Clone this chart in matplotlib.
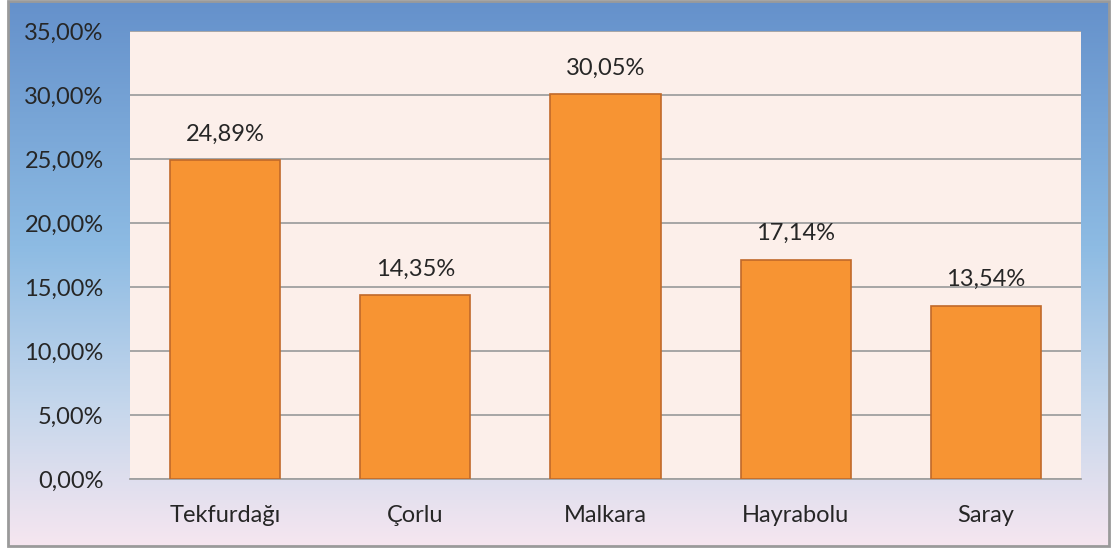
import matplotlib
matplotlib.use("Agg")
import matplotlib.pyplot as plt
import numpy as np
from matplotlib.colors import LinearSegmentedColormap
from matplotlib.patches import Rectangle
from matplotlib.ticker import FuncFormatter

categories = ["Tekfurdağı", "Çorlu", "Malkara", "Hayrabolu", "Saray"]
values = [24.89, 14.35, 30.05, 17.14, 13.54]
yticks = [0, 5, 10, 15, 20, 25, 30, 35]

plt.rcParams["font.family"] = ["Lato", "DejaVu Sans"]

W, H = 1111, 549
fig = plt.figure(figsize=(W / 100, H / 100), dpi=100)

# gradient background inside the outer frame
fx0, fy0, fx1, fy1 = 8, 1, 1109, 546
bg = fig.add_axes([fx0 / W, 1 - fy1 / H, (fx1 - fx0) / W, (fy1 - fy0) / H])
grad = LinearSegmentedColormap.from_list(
    "bg", [(0.0, "#6591cb"), (0.45, "#8dbbe3"), (0.75, "#c6d7ec"), (1.0, "#f6e6f0")])
bg.imshow(np.linspace(0, 1, 256)[:, None], aspect="auto", cmap=grad,
          extent=(0, 1, 0, 1))
bg.set_axis_off()
fig.patches.append(Rectangle((fx0 / W, 1 - fy1 / H), (fx1 - fx0) / W, (fy1 - fy0) / H,
                             transform=fig.transFigure, fill=False,
                             edgecolor="#9a9a9a", linewidth=2, zorder=10))

px0, py0, px1, py1 = 130, 31, 1081, 479
ax = fig.add_axes([px0 / W, 1 - py1 / H, (px1 - px0) / W, (py1 - py0) / H])
ax.set_facecolor("#fcefea")
x = np.arange(len(categories))
ax.bar(x, values, width=0.58, color="#f79433", edgecolor="#c0692a", linewidth=1.2,
       zorder=3)
for xi, v in zip(x, values):
    ax.text(xi, v + 1.2, f"{v:.2f}%".replace(".", ","), ha="center", va="bottom",
            fontsize=17, color="#262626")

ax.set_xlim(-0.5, len(categories) - 0.5)
ax.set_ylim(0, 35)
ax.set_yticks(yticks)
ax.yaxis.set_major_formatter(FuncFormatter(lambda v, _: f"{v:.2f}%".replace(".", ",")))
ax.set_xticks(x)
ax.set_xticklabels(categories)
ax.tick_params(axis="both", length=0, labelsize=17, colors="#262626")
ax.tick_params(axis="y", pad=19)
ax.tick_params(axis="x", pad=19)
ax.grid(axis="y", color="#a0a0a0", linewidth=1.3, zorder=1)
for s in ["left", "right", "top"]:
    ax.spines[s].set_visible(False)
ax.spines["bottom"].set_color("#a0a0a0")
ax.spines["bottom"].set_linewidth(1.3)

fig.savefig("out.png", dpi=100)
